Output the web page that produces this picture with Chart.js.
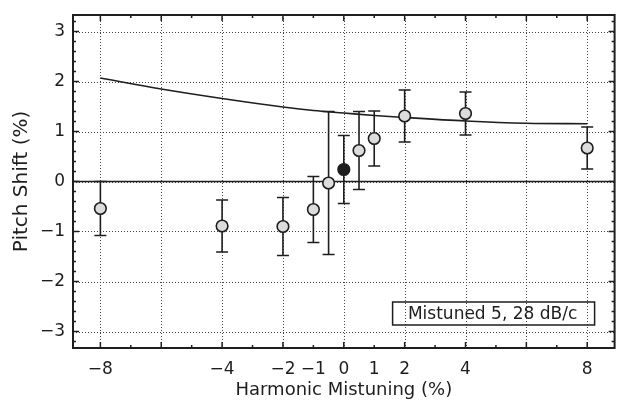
<!DOCTYPE html>
<html>
<head>
<meta charset="utf-8">
<script src="https://cdn.jsdelivr.net/npm/chart.js@4"></script>
<style>
  html, body { margin: 0; padding: 0; background: #fff; }
  #wrap { width: 622px; height: 401px; }
</style>
</head>
<body>
<div id="wrap"><canvas id="c" width="622" height="401"></canvas></div>
<script>
// ---- Data ----
const mistuning = [-8, -4, -2, -1, -0.5, 0, 0.5, 1, 2, 4, 8];
const pitchShift = [-0.54, -0.89, -0.9, -0.56, -0.03, 0.24, 0.62, 0.86, 1.31, 1.36, 0.67];
const errorSize = [0.54, 0.52, 0.58, 0.66, 1.43, 0.68, 0.78, 0.55, 0.52, 0.43, 0.42];
const filledIndex = 5; // the 0% point is drawn filled

const curveX = [-8, -6, -4, -2, -1, 0, 1, 2, 4, 6, 8];
const curveY = [2.07, 1.85, 1.66, 1.49, 1.42, 1.37, 1.32, 1.28, 1.21, 1.165, 1.155];

const zeroLineX = [-8.9, 8.9];
const zeroLineY = [0, 0];

const xTickLabels = [-8, -4, -2, -1, 0, 1, 2, 4, 8];
const xGridValues = [-8, -6, -4, -2, 0, 2, 4, 6, 8];
const yTickLabels = [-3, -2, -1, 0, 1, 2, 3];
const xRange = [-8.9, 8.9];
const yRange = [-3.33, 3.33];
const legendText = 'Mistuned 5, 28 dB/c';

const INK = '#1e1e1e';
const FONT = "'DejaVu Sans', 'Liberation Sans', sans-serif";

const fmt = v => String(v).replace('-', '\u2212');

const framePlugin = {
  id: 'frameGrid',
  beforeDatasetsDraw(chart) {
    const {ctx, chartArea: a, scales: {x, y}} = chart;
    ctx.save();
    // dotted grid
    ctx.strokeStyle = '#444';
    ctx.lineWidth = 1;
    ctx.setLineDash([1, 2]);
    xGridValues.forEach(v => {
      const px = Math.round(x.getPixelForValue(v)) + 0.5;
      ctx.beginPath(); ctx.moveTo(px, a.top); ctx.lineTo(px, a.bottom); ctx.stroke();
    });
    yTickLabels.forEach(v => {
      const py = Math.round(y.getPixelForValue(v)) + 0.5;
      ctx.beginPath(); ctx.moveTo(a.left, py); ctx.lineTo(a.right, py); ctx.stroke();
    });
    ctx.setLineDash([]);
    // tick marks
    ctx.strokeStyle = INK;
    ctx.lineWidth = 1.5;
    for (let v = -8; v <= 8; v++) {
      const px = x.getPixelForValue(v);
      const len = (v % 2 === 0) ? 6 : 3;
      ctx.beginPath();
      ctx.moveTo(px, a.bottom); ctx.lineTo(px, a.bottom - len);
      ctx.moveTo(px, a.top); ctx.lineTo(px, a.top + len);
      ctx.stroke();
    }
    for (let i = -16; i <= 16; i++) {
      const v = i / 5;
      const py = y.getPixelForValue(v);
      const len = (i % 5 === 0) ? 6 : 3;
      ctx.beginPath();
      ctx.moveTo(a.left, py); ctx.lineTo(a.left + len, py);
      ctx.moveTo(a.right, py); ctx.lineTo(a.right - len, py);
      ctx.stroke();
    }
    // error bars
    ctx.lineWidth = 1.6;
    mistuning.forEach((mx, i) => {
      const px = x.getPixelForValue(mx);
      const top = y.getPixelForValue(pitchShift[i] + errorSize[i]);
      const bot = y.getPixelForValue(pitchShift[i] - errorSize[i]);
      ctx.beginPath();
      ctx.moveTo(px, top); ctx.lineTo(px, bot);
      ctx.moveTo(px - 6, top); ctx.lineTo(px + 6, top);
      ctx.moveTo(px - 6, bot); ctx.lineTo(px + 6, bot);
      ctx.stroke();
    });
    ctx.restore();
  },
  afterDraw(chart) {
    const {ctx, chartArea: a} = chart;
    ctx.save();
    // frame
    ctx.strokeStyle = INK;
    ctx.lineWidth = 2;
    ctx.strokeRect(a.left, a.top, a.right - a.left, a.bottom - a.top);
    // legend box
    const w = 202, h = 23;
    const bx = a.right - 20 - w, by = a.bottom - 23 - h;
    ctx.lineWidth = 1.5;
    ctx.strokeRect(bx, by, w, h);
    ctx.fillStyle = INK;
    ctx.font = "17px " + FONT;
    ctx.textAlign = 'center';
    ctx.textBaseline = 'middle';
    ctx.fillText(legendText, bx + w / 2 - 1, by + h / 2 + 1);
    ctx.restore();
  }
};

new Chart(document.getElementById('c'), {
  type: 'scatter',
  data: {
    datasets: [
      {
        label: 'data',
        order: 0,
        data: mistuning.map((v, i) => ({x: v, y: pitchShift[i]})),
        pointRadius: 5.8,
        pointHoverRadius: 5.8,
        pointBorderWidth: 1.6,
        pointBorderColor: INK,
        pointBackgroundColor: mistuning.map((v, i) => i === filledIndex ? INK : '#dcdcdc'),
        showLine: false
      },
      {
        label: 'curve',
        order: 1,
        data: curveX.map((v, i) => ({x: v, y: curveY[i]})),
        showLine: true,
        borderColor: INK,
        borderWidth: 1.6,
        pointRadius: 0,
        tension: 0.4,
        cubicInterpolationMode: 'monotone'
      },
      {
        label: 'zero',
        order: 2,
        data: zeroLineX.map((v, i) => ({x: v, y: zeroLineY[i]})),
        showLine: true,
        borderColor: INK,
        borderWidth: 1.6,
        pointRadius: 0
      }
    ]
  },
  options: {
    responsive: false,
    animation: false,
    devicePixelRatio: 1,
    layout: { padding: { top: 15, right: 7, left: 0, bottom: 0 } },
    plugins: { legend: { display: false }, tooltip: { enabled: false } },
    scales: {
      x: {
        type: 'linear',
        min: xRange[0], max: xRange[1],
        afterBuildTicks: s => { s.ticks = xTickLabels.map(v => ({value: v})); },
        afterFit: s => { s.height = 53; },
        grid: { display: false },
        border: { display: false },
        ticks: {
          autoSkip: false, maxRotation: 0, padding: 3,
          color: INK, font: { family: FONT, size: 17 },
          callback: v => fmt(v)
        },
        title: {
          display: true, text: 'Harmonic Mistuning (%)',
          color: INK, font: { family: FONT, size: 18 },
          padding: { top: 0, bottom: 0 }
        }
      },
      y: {
        type: 'linear',
        min: yRange[0], max: yRange[1],
        afterBuildTicks: s => { s.ticks = yTickLabels.map(v => ({value: v})); },
        afterFit: s => { s.width = 73; },
        grid: { display: false },
        border: { display: false },
        ticks: {
          padding: 0,
          color: INK, font: { family: FONT, size: 17 },
          callback: v => fmt(v)
        },
        title: {
          display: true, text: 'Pitch Shift (%)',
          color: INK, font: { family: FONT, size: 20 },
          padding: { top: 10, bottom: 0 }
        }
      }
    }
  },
  plugins: [framePlugin]
});
</script>
</body>
</html>
